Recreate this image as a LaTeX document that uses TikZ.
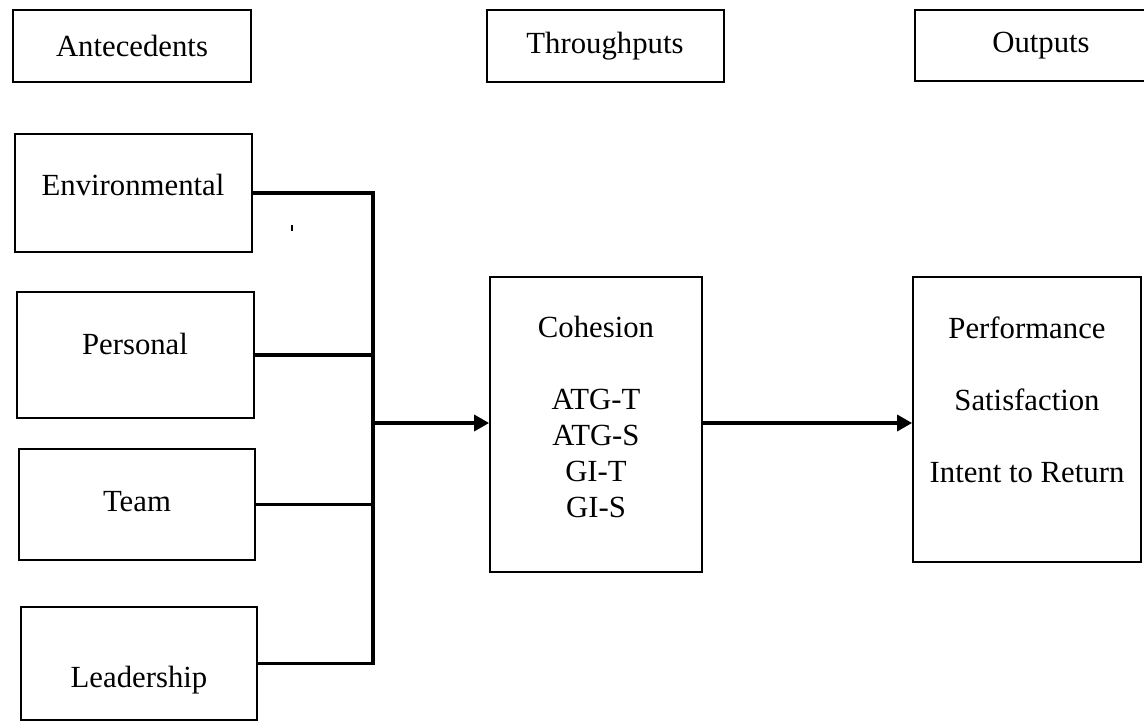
\documentclass[tikz,border=0pt]{standalone}
\usepackage{fontspec}
\setmainfont{Liberation Serif}
\usetikzlibrary{fit,arrows.meta}

\begin{document}
\begin{tikzpicture}[x=0.02cm,y=-0.02cm,
  box/.style={draw,line width=1pt,inner sep=0pt},
  lbl/.style={font=\fontsize{17.5}{20.4}\selectfont,align=center,inner sep=0pt},
  conn/.style={line width=2.2pt},
  arr/.style={line width=2.2pt,-{Triangle[length=8.5pt,width=9pt]}}]
\useasboundingbox (0,0) rectangle (1144,723);

% heading boxes
\node[box,fit={(13,10) (251,82)}] (hant) {};
\node[box,fit={(487,10) (724,82)}] (hthr) {};
\node[box,fit={(915,10) (1170,81)}] (hout) {};
\node[lbl] (tant) at (132,46) {Antecedents};
\node[lbl] (tthr) at (605,46) {Throughputs};
\node[lbl] (tout) at (1041,46) {Outputs};

% antecedents
\node[box,fit={(15,134) (252,252)}] (env) {};
\node[box,fit={(17,292) (254,418)}] (pers) {};
\node[box,fit={(19,449) (255,560)}] (team) {};
\node[box,fit={(21,607) (257,720)}] (lead) {};
\node[lbl] (tenv) at (133,185) {Environmental};
\node[lbl] (tpers) at (135,344) {Personal};
\node[lbl] (tteam) at (137,502) {Team};
\node[lbl] (tlead) at (139,680) {Leadership};

% throughputs and outputs
\node[box,fit={(490,277) (702,572)}] (coh) {};
\node[box,fit={(913,277) (1141,562)}] (outb) {};
\node[lbl] (tcoh) at (596,417) {Cohesion\\[20.4pt]ATG-T\\ATG-S\\GI-T\\GI-S};
\node[lbl] (toutb) at (1027,400) {Performance\\[20.4pt]Satisfaction\\[20.4pt]Intent to Return};

% connectors
\coordinate (jn) at (373,423);
\draw[conn] (env.east) -| (jn);
\draw[conn] (pers.east) -| (jn);
\draw[conn] (team.east) -| (jn);
\draw[conn] (lead.east) -| (jn);
\draw[arr] (jn) -- (jn -| coh.west);
\draw[arr] (coh.east |- jn) -- (jn -| outb.west);

\draw[line width=0.8pt] (292,225) -- (292,231);

\end{tikzpicture}
\end{document}
